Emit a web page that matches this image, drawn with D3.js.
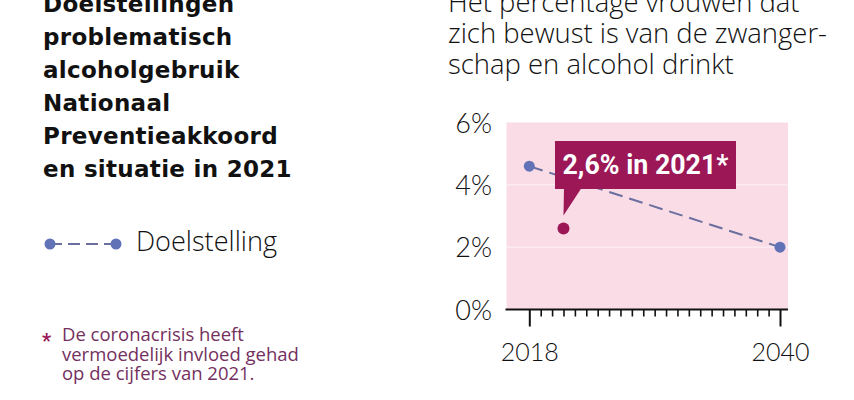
<!DOCTYPE html>
<html><head><meta charset="utf-8">
<script src="https://cdn.jsdelivr.net/npm/d3@7/dist/d3.min.js"></script>
<style>
html,body{margin:0;padding:0;background:#fff;}
svg{display:block;}
</style></head>
<body><svg id="c" width="854" height="400"></svg>
<script>
// ---- data ----
const titleLines = ["Doelstellingen","problematisch","alcoholgebruik","Nationaal","Preventieakkoord","en situatie in 2021"];
const subtitleLines = ["Het percentage vrouwen dat","zich bewust is van de zwanger-","schap en alcohol drinkt"];
const legendLabel = "Doelstelling";
const footnoteLines = ["De coronacrisis heeft","vermoedelijk invloed gehad","op de cijfers van 2021."];
const targetYears = [2018, 2040];
const targetValues = [4.6, 2.0];
const actualYear = [2021];
const actualValue = [2.6];
const annotationText = "2,6% in 2021*";
const yTicks = [0, 2, 4, 6];
const xTicksMajor = [2018, 2040];
const xTicksMinor = d3.range(2019, 2040);

const svg = d3.select("#c");
const LIGHT = "'Open Sans', Lato, sans-serif";
const NUM = "Lato, 'Open Sans', sans-serif";
const TITLE = "'DejaVu Sans', sans-serif";
const BOLD = "Roboto, 'Noto Sans', sans-serif";
const magenta = "#9b1756";
const blue = "#6272b6";

// scale a group's font size so its widest line has the given width
function fitWidth(sel, target) {
  let w = 0; sel.each(function(){ w = Math.max(w, this.getComputedTextLength()); });
  const fs = parseFloat(sel.attr("font-size"));
  sel.attr("font-size", fs * target / w);
}

// ---- left texts ----
svg.append("g").selectAll("text").data(titleLines).join("text")
  .attr("x", 43).attr("y", (d,i)=>12 + i*33)
  .attr("font-family", TITLE).attr("font-weight", 700).attr("font-size", 23)
  .attr("letter-spacing", 0.3).attr("fill", "#111").text(d=>d);

// legend
const lg = svg.append("g");
lg.append("line").attr("x1",50).attr("x2",116).attr("y1",244).attr("y2",244)
  .attr("stroke","#6a6f9f").attr("stroke-width",2).attr("stroke-dasharray","12,6");
lg.selectAll("circle").data([50,116]).join("circle")
  .attr("cx",d=>d).attr("cy",244).attr("r",5.5).attr("fill",blue);
const lgt = lg.append("text").attr("x",136).attr("y",251).attr("font-family",LIGHT).attr("font-weight",300)
  .attr("font-size",25).attr("fill","#111").text(legendLabel);
fitWidth(lgt, 141);

// footnote
const fn = svg.append("g");
fn.append("text").attr("x",42).attr("y",348).attr("font-family",BOLD).attr("font-weight",700)
  .attr("font-size",20).attr("fill",magenta).text("*");
const fnt = fn.selectAll("text.f").data(footnoteLines).join("text").attr("class","f")
  .attr("x",62).attr("y",(d,i)=>341 + i*19.5)
  .attr("font-family",LIGHT).attr("font-weight",400).attr("font-size",16)
  .attr("fill","#74305e").text(d=>d);
fitWidth(fnt, 237);

// subtitle
const sub = svg.append("g").selectAll("text").data(subtitleLines).join("text")
  .attr("x",448).attr("y",(d,i)=>12 + i*31)
  .attr("font-family",LIGHT).attr("font-weight",300).attr("font-size",24)
  .attr("fill","#111").text(d=>d);
fitWidth(sub, 379);

// ---- chart ----
const x = d3.scaleLinear().domain([2018, 2040]).range([529.3, 780]);
const y = d3.scaleLinear().domain([0, 6]).range([309.5, 122.5]);

const plotX0 = x(2016), plotX1 = x(2040.7);
svg.append("rect").attr("x",plotX0).attr("y",y(6)).attr("width",plotX1-plotX0)
  .attr("height",y(0)-y(6)).attr("fill","#f9dce6");

// gridlines
svg.append("g").selectAll("line").data(yTicks.filter(d=>d>0 && d<6)).join("line")
  .attr("x1",plotX0).attr("x2",plotX1).attr("y1",d=>y(d)).attr("y2",d=>y(d))
  .attr("stroke","#fff").attr("stroke-opacity",0.6).attr("stroke-width",1);

// y axis labels
const yAxis = d3.axisLeft(y).tickValues(yTicks).tickFormat(d=>d+"%").tickSize(0).tickPadding(0);
const yg = svg.append("g").attr("transform",`translate(492,0)`).call(yAxis);
yg.select(".domain").remove();
yg.selectAll("text").attr("font-family",NUM).attr("font-weight",300).attr("font-size",27)
  .attr("fill","#111").attr("dy","0.36em");

// x axis
const xgMinor = svg.append("g").attr("transform",`translate(0,${y(0)})`)
  .call(d3.axisBottom(x).tickValues(xTicksMinor).tickSize(7).tickFormat(""));
xgMinor.select(".domain").remove();
xgMinor.selectAll("line").attr("stroke","#111").attr("stroke-width",1.6);
const xg = svg.append("g").attr("transform",`translate(0,${y(0)})`)
  .call(d3.axisBottom(x).tickValues(xTicksMajor).tickSize(17).tickPadding(0).tickFormat(d3.format("d")));
xg.select(".domain").remove();
xg.selectAll("line").attr("stroke","#111").attr("stroke-width",2);
xg.selectAll("text").attr("font-family",NUM).attr("font-weight",300).attr("font-size",25)
  .attr("fill","#111").attr("dy", null).attr("y", 51.5);
svg.append("line").attr("x1",plotX0-1).attr("x2",plotX1).attr("y1",y(0)).attr("y2",y(0))
  .attr("stroke","#111").attr("stroke-width",2);

// target line
const line = d3.line().x((d,i)=>x(targetYears[i])).y(d=>y(d));
svg.append("path").datum(targetValues).attr("d",line).attr("fill","none")
  .attr("stroke","#6a6f9f").attr("stroke-width",2).attr("stroke-dasharray","14,7");
svg.append("g").selectAll("circle").data(targetValues).join("circle")
  .attr("cx",(d,i)=>x(targetYears[i])).attr("cy",d=>y(d)).attr("r",5.5).attr("fill",blue);

// actual point
svg.append("g").selectAll("circle").data(actualValue).join("circle")
  .attr("cx",(d,i)=>x(actualYear[i])).attr("cy",d=>y(d)).attr("r",6).attr("fill",magenta);

// annotation
const ax = x(actualYear[0]), ay = y(actualValue[0]);
const ann = svg.append("g");
const boxX = ax - 8.5, boxY = 141, boxW = 181, boxH = 48;
ann.append("rect").attr("x",boxX).attr("y",boxY).attr("width",boxW).attr("height",boxH).attr("fill",magenta);
ann.append("path").attr("d",`M${ax+0.5},${boxY+boxH-1} L${ax+18},${boxY+boxH-1} L${ax},${ay-13} Z`).attr("fill",magenta);
const at = ann.append("text").attr("x",boxX+7.5).attr("y",boxY+33).attr("font-family",BOLD).attr("font-weight",700)
  .attr("font-size",27).attr("fill","#fff").text(annotationText);
fitWidth(at, 166);
</script>
</body></html>
